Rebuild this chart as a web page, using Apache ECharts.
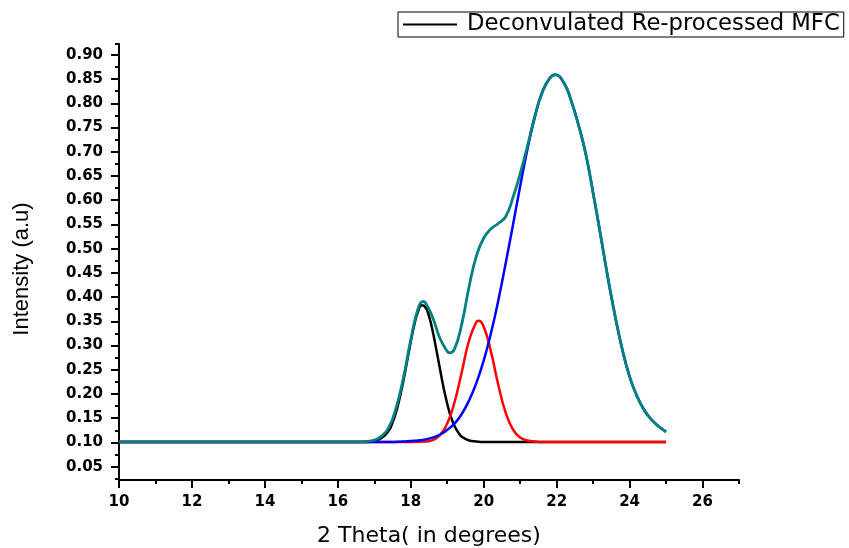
<!DOCTYPE html>
<html>
<head>
<meta charset="utf-8">
<script src="https://cdn.jsdelivr.net/npm/echarts@6.0.0/dist/echarts.min.js"></script>
<style>
html,body{margin:0;padding:0;background:#fff;}
#chart{width:849px;height:548px;}
</style>
</head>
<body>
<div id="chart"></div>
<script>
// X tick labels and Y tick labels
const xTicks = [10, 12, 14, 16, 18, 20, 22, 24, 26];
const xMinorTicks = [11, 13, 15, 17, 19, 21, 23, 25, 27];
const yTicks = [0.05, 0.10, 0.15, 0.20, 0.25, 0.30, 0.35, 0.40, 0.45, 0.50, 0.55, 0.60, 0.65, 0.70, 0.75, 0.80, 0.85, 0.90];
const yMinorTicks = [0.025, 0.075, 0.125, 0.175, 0.225, 0.275, 0.325, 0.375, 0.425, 0.475, 0.525, 0.575, 0.625, 0.675, 0.725, 0.775, 0.825, 0.875, 0.9225];

// Black: deconvoluted peak 1
const blackX = [10, 14, 16, 16.6, 16.8, 17.0, 17.2, 17.4, 17.5, 17.6, 17.7, 17.8, 17.9, 18.0, 18.1, 18.2, 18.3, 18.4, 18.5, 18.6, 18.7, 18.8, 18.9, 19.0, 19.1, 19.2, 19.3, 19.4, 19.6, 19.8, 20.0, 22, 25];
const blackY = [0.101, 0.101, 0.101, 0.101, 0.101, 0.103, 0.109, 0.125, 0.141, 0.163, 0.193, 0.228, 0.268, 0.308, 0.344, 0.370, 0.383, 0.379, 0.361, 0.330, 0.292, 0.252, 0.213, 0.180, 0.153, 0.134, 0.121, 0.112, 0.104, 0.102, 0.101, 0.101, 0.101];

// Red: peak 2
const redX = [10, 14, 16, 18.0, 18.4, 18.6, 18.8, 19.0, 19.2, 19.4, 19.6, 19.8, 19.86, 20.0, 20.2, 20.4, 20.6, 20.8, 21.0, 21.2, 21.4, 21.6, 22, 23, 24, 25];
const redY = [0.101, 0.101, 0.101, 0.101, 0.102, 0.105, 0.115, 0.139, 0.183, 0.246, 0.311, 0.349, 0.351, 0.339, 0.287, 0.219, 0.162, 0.127, 0.110, 0.104, 0.102, 0.101, 0.101, 0.101, 0.101, 0.101];

// Blue: peak 3
const blueX = [10, 14, 16, 17.0, 17.4, 17.8, 18.0, 18.2, 18.4, 18.6, 18.8, 19.0, 19.2, 19.4, 19.6, 19.8, 20.0, 20.2, 20.4, 20.6, 20.8, 21.0, 21.2, 21.4, 21.6, 21.8, 21.96, 22.2, 22.4, 22.6, 22.8, 23.0, 23.2, 23.4, 23.6, 23.8, 24.0, 24.2, 24.4, 24.6, 24.8, 25.0];
const blueY = [0.101, 0.101, 0.101, 0.101, 0.101, 0.102, 0.103, 0.104, 0.106, 0.110, 0.116, 0.126, 0.139, 0.159, 0.187, 0.223, 0.269, 0.326, 0.393, 0.469, 0.548, 0.629, 0.706, 0.771, 0.822, 0.851, 0.859, 0.842, 0.805, 0.755, 0.695, 0.615, 0.530, 0.442, 0.362, 0.292, 0.236, 0.196, 0.167, 0.147, 0.133, 0.122];

// Teal: cumulative fit
const tealX = [10, 12, 14, 16, 16.4, 16.6, 16.8, 17.0, 17.2, 17.4, 17.6, 17.8, 18.0, 18.2, 18.34, 18.4, 18.6, 18.8, 19.0, 19.06, 19.2, 19.4, 19.6, 19.8, 20.0, 20.2, 20.4, 20.6, 20.8, 21.0, 21.2, 21.4, 21.6, 21.8, 21.96, 22.2, 22.4, 22.6, 22.8, 23.0, 23.2, 23.4, 23.6, 23.8, 24.0, 24.2, 24.4, 24.6, 24.8, 25.0];
const tealY = [0.101, 0.101, 0.101, 0.101, 0.101, 0.101, 0.102, 0.105, 0.113, 0.131, 0.172, 0.234, 0.312, 0.376, 0.391, 0.389, 0.358, 0.315, 0.288, 0.285, 0.293, 0.345, 0.422, 0.485, 0.522, 0.541, 0.552, 0.566, 0.605, 0.655, 0.712, 0.773, 0.822, 0.851, 0.859, 0.842, 0.805, 0.755, 0.695, 0.615, 0.530, 0.442, 0.362, 0.292, 0.236, 0.196, 0.167, 0.147, 0.133, 0.122];

const pairs = (xs, ys) => xs.map((x, i) => [x, ys[i]]);

const chart = echarts.init(document.getElementById('chart'), null, {renderer: 'canvas'});
const labelFont = {fontFamily: 'DejaVu Sans', fontWeight: 'bold', fontSize: 15, color: '#000'};

chart.setOption({
  animation: false,
  backgroundColor: '#fff',
  grid: {left: 119, top: 44, width: 620, height: 436, containLabel: false, outerBoundsMode: 'none'},
  legend: {
    data: [{name: 'Deconvulated Re-processed MFC', icon: 'rect'}],
    left: 398, top: 12,
    orient: 'horizontal',
    padding: [1, 4, 1, 5],
    itemWidth: 54, itemHeight: 2,
    borderColor: '#000', borderWidth: 1, borderRadius: 0,
    selectedMode: false,
    itemStyle: {color: '#000', borderWidth: 0},
    textStyle: {fontFamily: 'DejaVu Sans', fontSize: 22.7, color: '#000', lineHeight: 22, padding: [0, 0, 0, 5]}
  },
  xAxis: [
    {
      type: 'value', min: 10, max: 27, position: 'bottom',
      name: '2 Theta( in degrees)', nameLocation: 'middle', nameGap: 45,
      nameTextStyle: {fontFamily: 'DejaVu Sans', fontSize: 22, color: '#000'},
      axisLine: {show: true, onZero: false, lineStyle: {color: '#000', width: 2}},
      axisTick: {show: true, inside: false, length: 8, customValues: xTicks, lineStyle: {color: '#000', width: 2}},
      axisLabel: Object.assign({show: true, margin: 15, customValues: xTicks, formatter: v => String(v)}, labelFont),
      splitLine: {show: false}
    },
    {
      type: 'value', min: 10, max: 27, position: 'bottom',
      axisLine: {show: false, onZero: false},
      axisTick: {show: true, inside: false, length: 4, customValues: xMinorTicks, lineStyle: {color: '#000', width: 2}},
      axisLabel: {show: false},
      splitLine: {show: false}
    }
  ],
  yAxis: [
    {
      type: 'value', min: 0.0225, max: 0.9225, position: 'left',
      name: 'Intensity (a.u)', nameLocation: 'middle', nameGap: 86, nameRotate: 90,
      nameTextStyle: {fontFamily: 'Liberation Sans', fontSize: 22, color: '#000', padding: [0, 14, 0, 0]},
      axisLine: {show: true, onZero: false, lineStyle: {color: '#000', width: 2}},
      axisTick: {show: true, inside: false, length: 8, customValues: yTicks, lineStyle: {color: '#000', width: 2}},
      axisLabel: Object.assign({show: true, margin: 16, customValues: yTicks, formatter: v => v.toFixed(2)}, labelFont),
      splitLine: {show: false}
    },
    {
      type: 'value', min: 0.0225, max: 0.9225, position: 'left',
      axisLine: {show: false, onZero: false},
      axisTick: {show: true, inside: false, length: 4, customValues: yMinorTicks, lineStyle: {color: '#000', width: 2}},
      axisLabel: {show: false},
      splitLine: {show: false}
    }
  ],
  series: [
    {name: 'Deconvulated Re-processed MFC', type: 'line', data: pairs(blackX, blackY), smooth: true, symbol: 'none', showSymbol: false, lineStyle: {color: '#000000', width: 2.5}, itemStyle: {color: '#000000'}},
    {name: 'Peak 2', type: 'line', data: pairs(redX, redY), smooth: true, symbol: 'none', showSymbol: false, lineStyle: {color: '#ff0000', width: 2.5}, itemStyle: {color: '#ff0000'}},
    {name: 'Peak 3', type: 'line', data: pairs(blueX, blueY), smooth: true, symbol: 'none', showSymbol: false, lineStyle: {color: '#0000ff', width: 2.5}, itemStyle: {color: '#0000ff'}},
    {name: 'Cumulative', type: 'line', data: pairs(tealX, tealY), smooth: true, symbol: 'none', showSymbol: false, lineStyle: {color: '#008080', width: 2.8}, itemStyle: {color: '#008080'}}
  ]
});
</script>
</body>
</html>
